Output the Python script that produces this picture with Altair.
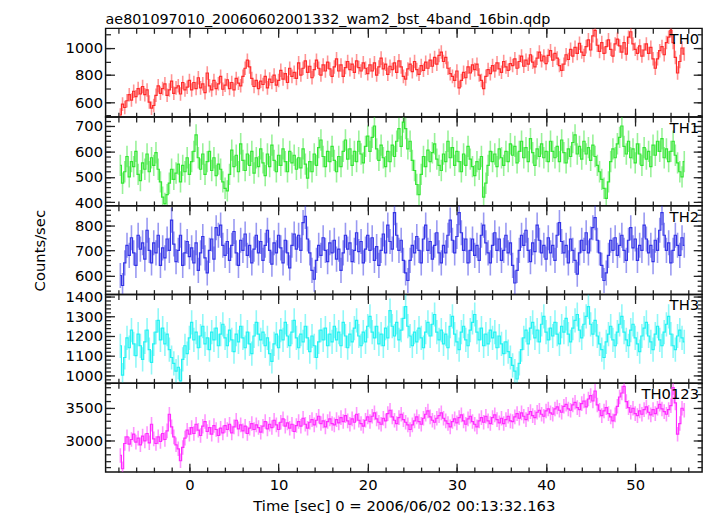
import altair as alt
import pandas as pd

# ---- data (0.25 s bins starting at t = -7.75 s; 16 bins = 4 s per row) ----
T0 = -7.75
DT = 0.25

TH0 = [505, 585, 560, 610, 655, 615, 680, 640, 700, 660, 715, 655, 690, 600, 555, 575,
       650, 720, 665, 700, 735, 650, 690, 755, 665, 705, 720, 660, 745, 690, 710, 760,
       690, 745, 700, 780, 705, 735, 670, 815, 720, 690, 760, 700, 735, 790, 695, 725,
       765, 700, 745, 690, 775, 740, 720, 790, 850, 910, 860, 775, 715, 760, 700, 755,
       730, 790, 705, 770, 745, 800, 725, 760, 835, 770, 810, 745, 850, 790, 820, 775,
       890, 800, 850, 905, 820, 865, 780, 840, 910, 850, 800, 875, 830, 895, 845, 790,
       860, 920, 830, 875, 790, 855, 900, 840, 880, 820, 905, 855, 830, 890, 850, 810,
       875, 830, 890, 800, 860, 925, 845, 880, 805, 865, 840, 890, 820, 905, 860, 790,
       770, 845, 880, 825, 900, 840, 805, 870, 835, 895, 850, 910, 865, 930, 880, 945,
       970, 900, 930, 850, 810, 790, 760, 830, 705, 760, 820, 780, 860, 815, 875, 840,
       880, 800, 760, 700, 790, 840, 810, 870, 830, 890, 845, 820, 900, 860, 835, 885,
       870, 920, 850, 900, 940, 865, 910, 880, 950, 895, 860, 925, 970, 905, 940, 885,
       945, 980, 910, 960, 925, 870, 835, 880, 950, 915, 990, 940, 1005, 960, 1035, 970,
       945, 1010, 1060, 985, 1090, 1130, 1020, 975, 1040, 960, 1010, 1060, 990, 940, 1030, 1065,
       1015, 970, 1040, 955, 1080, 1120, 1030, 990, 960, 1015, 940, 985, 1030, 960, 1005, 920,
       850, 920, 980, 1010, 950, 1040, 1080, 1130, 1040, 930, 815, 900, 1000, 955]

TH1 = [545, 475, 520, 580, 500, 560, 540, 600, 510, 485, 555, 530, 590, 520, 575, 545,
       595, 530, 480, 420, 395, 430, 475, 530, 490, 515, 550, 480, 545, 520, 575, 510,
       560, 600, 665, 575, 530, 590, 510, 560, 600, 525, 575, 505, 550, 530, 480, 455,
       445, 510, 605, 540, 585, 520, 630, 565, 525, 590, 545, 600, 515, 575, 540, 610,
       555, 505, 590, 540, 625, 565, 520, 585, 545, 610, 560, 520, 600, 555, 585, 530,
       575, 535, 610, 550, 495, 560, 520, 590, 545, 615, 645, 580, 540, 600, 560, 620,
       565, 520, 580, 540, 600, 645, 570, 610, 545, 600, 560, 640, 590, 555, 620, 660,
       600, 655, 700, 610, 565, 625, 575, 540, 600, 560, 625, 580, 640, 690, 620, 715,
       690, 610, 640, 565, 525, 470, 430, 510, 580, 540, 605, 560, 595, 630, 570, 545,
       525, 590, 560, 640, 575, 615, 545, 600, 560, 520, 590, 545, 620, 570, 540, 505,
       560, 530, 580, 420, 475, 545, 600, 560, 590, 540, 610, 575, 545, 600, 560, 630,
       585, 620, 555, 600, 640, 575, 615, 560, 650, 595, 545, 610, 580, 630, 575, 600,
       560, 640, 600, 575, 620, 560, 645, 595, 555, 610, 580, 635, 665, 590, 620, 570,
       640, 590, 615, 565, 625, 580, 545, 520, 490, 455, 415, 480, 560, 610, 575, 630,
       655, 700, 620, 590, 640, 575, 610, 555, 630, 590, 545, 615, 570, 600, 540, 625,
       585, 640, 600, 650, 575, 610, 560, 600, 640, 585, 555, 520, 500, 560]

TH2 = [600, 560, 650, 720, 680, 750, 690, 640, 760, 705, 730, 665, 780, 700, 650, 730,
       690, 760, 640, 710, 670, 745, 700, 820, 725, 655, 700, 760, 640, 690, 735, 675,
       710, 650, 730, 620, 690, 755, 670, 610, 700, 745, 665, 790, 760, 800, 720, 680,
       735, 660, 720, 775, 690, 640, 740, 700, 765, 680, 720, 650, 705, 760, 690, 735,
       660, 720, 780, 700, 645, 730, 690, 760, 710, 650, 740, 690, 630, 720, 765, 705,
       760, 700, 810, 835, 745, 690, 620, 585, 660, 720, 680, 750, 700, 655, 730, 690,
       740, 665, 705, 620, 690, 760, 705, 730, 655, 700, 770, 695, 735, 650, 705, 760,
       700, 750, 660, 715, 640, 700, 765, 690, 800, 735, 705, 850, 760, 700, 740, 660,
       610, 580, 660, 720, 690, 755, 700, 650, 745, 800, 700, 735, 665, 720, 770, 690,
       650, 720, 690, 760, 820, 740, 690, 755, 850, 770, 700, 745, 650, 700, 745, 680,
       720, 660, 760, 800, 730, 690, 650, 720, 770, 700, 745, 660, 700, 760, 690, 730,
       640, 570, 620, 700, 760, 720, 780, 700, 655, 730, 695, 800, 740, 690, 720, 665,
       750, 690, 720, 660, 760, 810, 735, 690, 720, 650, 745, 700, 660, 605, 690, 740,
       700, 770, 690, 745, 790, 830, 740, 690, 640, 580, 610, 680, 740, 700, 750, 680,
       720, 760, 700, 660, 740, 790, 710, 745, 660, 720, 700, 800, 745, 690, 720, 655,
       740, 700, 780, 850, 760, 700, 730, 650, 700, 760, 720, 680, 750, 720]

TH3 = [1150, 1000, 1090, 1190, 1140, 1230, 1160, 1100, 1210, 1150, 1080, 1170, 1230, 1130, 1065, 1160,
       1220, 1280, 1180, 1240, 1160, 1210, 1130, 1090, 1060, 1020, 1040, 970, 1080, 1150, 1110, 1190,
       1270, 1180, 1220, 1140, 1200, 1250, 1160, 1190, 1130, 1220, 1180, 1240, 1150, 1210, 1260, 1190,
       1150, 1230, 1180, 1120, 1210, 1170, 1250, 1190, 1140, 1220, 1160, 1110, 1200, 1270, 1210, 1180,
       1220, 1150, 1190, 1110, 1070, 1160, 1210, 1140, 1230, 1180, 1270, 1200, 1150, 1220, 1280, 1190,
       1140, 1210, 1170, 1250, 1190, 1120, 1200, 1150, 1090, 1170, 1230, 1180, 1240, 1150, 1210, 1170,
       1250, 1180, 1220, 1150, 1270, 1200, 1140, 1210, 1170, 1240, 1280, 1200, 1150, 1220, 1170, 1250,
       1300, 1220, 1190, 1250, 1160, 1210, 1150, 1240, 1190, 1330, 1250, 1200, 1270, 1180, 1230, 1290,
       1350, 1250, 1200, 1150, 1220, 1170, 1240, 1190, 1140, 1220, 1270, 1200, 1260, 1310, 1220, 1180,
       1230, 1160, 1210, 1140, 1250, 1300, 1210, 1170, 1130, 1220, 1250, 1180, 1150, 1230, 1270, 1310,
       1220, 1180, 1240, 1150, 1210, 1160, 1230, 1190, 1220, 1140, 1200, 1160, 1110, 1170, 1120, 1090,
       1050, 1020, 980, 1060, 1130, 1190, 1230, 1160, 1240, 1270, 1190, 1230, 1170, 1260, 1300, 1220,
       1180, 1240, 1200, 1270, 1210, 1160, 1250, 1220, 1290, 1210, 1170, 1240, 1280, 1310, 1230, 1190,
       1260, 1300, 1350, 1260, 1210, 1280, 1200, 1160, 1130, 1090, 1170, 1210, 1250, 1180, 1150, 1220,
       1260, 1300, 1220, 1180, 1150, 1230, 1260, 1190, 1160, 1120, 1200, 1240, 1270, 1200, 1170, 1130,
       1210, 1250, 1180, 1150, 1220, 1260, 1300, 1210, 1150, 1130, 1200, 1230, 1190, 1170]

TH0123 = [2780, 2580, 2960, 3060, 2950, 3020, 3100, 2980, 3040, 2940, 3070, 3000, 3110, 2970, 3250, 3030,
          2960, 3060, 2990, 3110, 3020, 3150, 3400, 3210, 3060, 2940, 2880, 2700, 2900, 3040, 3160, 3100,
          3200, 3110, 3250, 3160, 3080, 3220, 3290, 3140, 3200, 3100, 3230, 3170, 3080, 3190, 3120, 3230,
          3170, 3250, 3120, 3210, 3310, 3180, 3240, 3150, 3220, 3110, 3190, 3260, 3170, 3240, 3200, 3130,
          3220, 3290, 3180, 3250, 3200, 3310, 3240, 3170, 3280, 3330, 3220, 3270, 3190, 3250, 3140, 3230,
          3290, 3220, 3340, 3250, 3190, 3280, 3320, 3240, 3310, 3370, 3260, 3300, 3210, 3290, 3330, 3260,
          3240, 3320, 3270, 3350, 3290, 3380, 3300, 3250, 3330, 3280, 3400, 3310, 3260, 3220, 3310, 3360,
          3290, 3370, 3420, 3330, 3280, 3250, 3340, 3300, 3410, 3460, 3360, 3310, 3260, 3350, 3400, 3320,
          3280, 3240, 3170, 3240, 3300, 3360, 3290, 3250, 3340, 3400, 3450, 3360, 3310, 3280, 3340, 3380,
          3420, 3340, 3300, 3260, 3210, 3290, 3330, 3270, 3350, 3390, 3300, 3250, 3330, 3370, 3290, 3250,
          3210, 3300, 3350, 3280, 3370, 3300, 3260, 3350, 3390, 3320, 3270, 3340, 3260, 3320, 3370, 3300,
          3290, 3360, 3410, 3340, 3420, 3370, 3320, 3400, 3440, 3380, 3350, 3430, 3460, 3400, 3370, 3450,
          3480, 3420, 3400, 3480, 3510, 3460, 3430, 3520, 3550, 3480, 3460, 3540, 3580, 3500, 3470, 3560,
          3600, 3510, 3630, 3680, 3600, 3750, 3540, 3460, 3380, 3450, 3500, 3410, 3360, 3300, 3390, 3520,
          3660, 3720, 3820, 3590, 3500, 3430, 3490, 3410, 3380, 3450, 3400, 3470, 3510, 3430, 3390, 3470,
          3410, 3490, 3550, 3480, 3440, 3400, 3470, 3530, 3800, 3570, 3100, 3260, 3490, 3460]

NAMES = ["TH0", "TH1", "TH2", "TH3", "TH0123"]
SERIES = [TH0, TH1, TH2, TH3, TH0123]
COLORS = ["#ff2a2a", "#33e633", "#3333e6", "#22f2f2", "#ff2aff"]
ERRS = [50, 42, 50, 62, 110]
YDOMAINS = [[489, 1145], [386, 735], [524, 877], [958, 1412], [2530, 3866]]
YMAJOR = [[600, 800, 1000], [400, 500, 600, 700], [600, 700, 800],
          [1000, 1100, 1200, 1300, 1400], [3000, 3500]]
YMINOR_STEP = [100, 20, 20, 20, 100]
XDOMAIN = [-9.4, 57.5]
XMAJOR = [0, 10, 20, 30, 40, 50]
XMINOR = list(range(-8, 57, 2))

TITLE = "ae801097010_20060602001332_wam2_bst_4band_16bin.qdp"
XTITLE = "Time [sec] 0 = 2006/06/02 00:13:32.163"
YTITLE = "Counts/sec"

W = 605
H = 90
FONT = "DejaVu Sans"
MAJ = 9
MIN = 5


def tick_axis(orient, offset, values, size):
    return alt.Axis(orient=orient, offset=offset, values=values, tickSize=size,
                    ticks=True, labels=False, domain=False, grid=False, title=None,
                    tickColor="#222222", tickWidth=1.3)


def minor_values(i):
    lo, hi = YDOMAINS[i]
    step = YMINOR_STEP[i]
    start = int(-(-lo // step) * step)
    return list(range(start, int(hi) + 1, step))


def panel(i):
    vals = SERIES[i]
    df = pd.DataFrame({"t": [T0 + DT * k for k in range(len(vals))], "v": vals})
    df["lo"] = df["v"] - ERRS[i]
    df["hi"] = df["v"] + ERRS[i]
    xs = alt.Scale(domain=XDOMAIN, nice=False, zero=False)
    ys = alt.Scale(domain=YDOMAINS[i], nice=False, zero=False)
    last = i == len(SERIES) - 1
    ymin = minor_values(i)

    if last:
        xlab = alt.Axis(orient="bottom", values=XMAJOR, ticks=False, tickSize=0, format="d",
                        domain=False, grid=False, labelPadding=6, labelFlush=False,
                        title=XTITLE, titlePadding=6)
    else:
        xlab = None
    ylab_kw = dict(orient="left", values=YMAJOR[i], ticks=False, tickSize=0, format="d",
                   domain=False, grid=False, labelPadding=3, labelFlush=False,
                   labelOverlap=False)
    if i == 2:
        ylab = alt.Axis(title=YTITLE, titlePadding=27, **ylab_kw)
    else:
        ylab = alt.Axis(title=None, **ylab_kw)

    base = alt.Chart(df)
    err = base.mark_rule(color=COLORS[i], opacity=0.5, strokeWidth=1.6, clip=True).encode(
        x=alt.X("t:Q", scale=xs, axis=xlab),
        y=alt.Y("lo:Q", scale=ys, axis=ylab),
        y2="hi:Q",
    )
    line = base.mark_line(color=COLORS[i], strokeWidth=1.2, interpolate="step", clip=True).encode(
        x=alt.X("t:Q", scale=xs, axis=tick_axis("top", -H, XMAJOR, MAJ)),
        y=alt.Y("v:Q", scale=ys, axis=tick_axis("right", -W, YMAJOR[i], MAJ)),
    )
    inv1 = base.mark_line(strokeOpacity=0).encode(
        x=alt.X("t:Q", scale=xs, axis=tick_axis("top", -H, XMINOR, MIN)),
        y=alt.Y("v:Q", scale=ys, axis=tick_axis("right", -W, ymin, MIN)),
    )
    inv2 = base.mark_line(strokeOpacity=0).encode(
        x=alt.X("t:Q", scale=xs, axis=tick_axis("bottom", -H, XMAJOR, MAJ)),
        y=alt.Y("v:Q", scale=ys, axis=tick_axis("left", -W, YMAJOR[i], MAJ)),
    )
    inv3 = base.mark_line(strokeOpacity=0).encode(
        x=alt.X("t:Q", scale=xs, axis=tick_axis("bottom", -H, XMINOR, MIN)),
        y=alt.Y("v:Q", scale=ys, axis=tick_axis("left", -W, ymin, MIN)),
    )
    label = alt.Chart(pd.DataFrame({"name": [NAMES[i]]})).mark_text(
        align="right", baseline="top", font=FONT, fontSize=15, color="black"
    ).encode(x=alt.value(W - 3), y=alt.value(4), text="name:N")

    return alt.layer(err, line, inv1, inv2, inv3, label).resolve_axis(
        x="independent", y="independent"
    ).properties(width=W, height=H)


chart = alt.vconcat(*[panel(i) for i in range(len(SERIES))], spacing=0, bounds="flush").properties(
    title=alt.TitleParams(text=TITLE, anchor="start", frame="group", font=FONT,
                          fontSize=14.5, fontWeight="normal", color="black", offset=0),
    padding={"left": 24, "top": 0, "right": 5, "bottom": 3},
    background="white",
).configure_view(
    stroke="#111111", strokeWidth=1.5
).configure_axis(
    labelFont=FONT, labelFontSize=15, labelColor="black",
    titleFont=FONT, titleFontSize=15, titleFontWeight="normal", titleColor="black",
)

chart.save("out.html", embed_options={"renderer": "svg", "actions": False})
